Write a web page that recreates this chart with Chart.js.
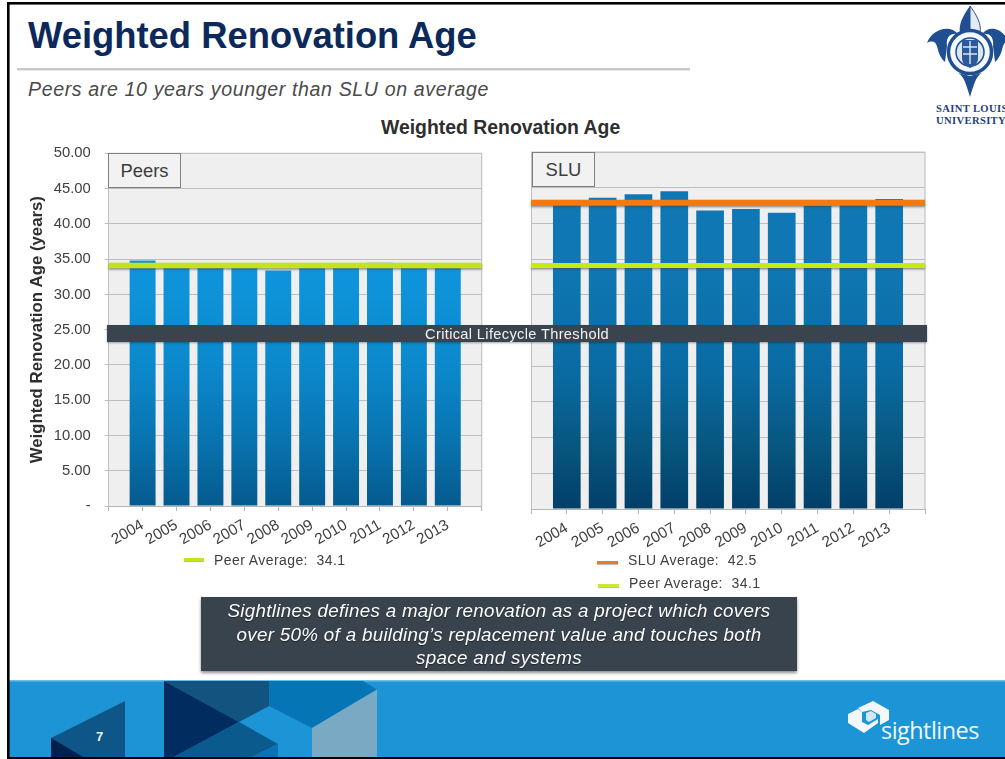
<!DOCTYPE html>
<html><head><meta charset="utf-8">
<script src="https://cdn.jsdelivr.net/npm/chart.js@4"></script>
<style>
html,body{margin:0;padding:0;background:#fff;overflow:hidden}
#slide{position:relative;width:1005px;height:759px;overflow:hidden;font-family:"Liberation Sans",Arial,sans-serif;color:#404040}
#slide div,#slide span{position:absolute;white-space:pre}
canvas{position:absolute;display:block}
.swatch{height:3px;box-shadow:0 1px 1px rgba(90,90,90,.45)}
.legend{font-size:14px;line-height:16px;letter-spacing:.42px}
.panel{background:#F2F2F2;border:1px solid #7F7F7F;box-sizing:border-box;font-size:18.4px;color:#3C3C3C;line-height:33px;text-align:center}
.call{left:201px;width:596px;text-align:center;color:#fff;font-style:italic;font-size:18.8px;line-height:22px;letter-spacing:.3px;text-shadow:0 1px 1px rgba(0,0,0,.5)}
.sluname{left:936px;font-family:'Liberation Serif',serif;font-weight:bold;font-size:10.6px;color:#1F3F7F;line-height:12px;letter-spacing:.35px}
</style></head><body>
<div id="slide">
  <svg style="position:absolute;left:0;top:0" width="1005" height="759">
    <rect x="7" y="681" width="998" height="77" fill="#1C94D6"/>
    <rect x="7" y="680" width="998" height="1.5" fill="#6FBDE6"/>
    <polygon points="51,738 125,701 125,758 51,758" fill="#0F5688"/>
    <polygon points="51,738 85,758 51,758" fill="#00214F"/>
    <polygon points="164,681 269,681 269,706 239,722" fill="#12537F"/>
    <polygon points="164,681 239,722 172,758 164,758" fill="#002C5F"/>
    <polygon points="239,722 278,744 250,758 172,758" fill="#0B5A8E"/>
    <polygon points="278,744 278,758 250,758" fill="#0A72B5"/>
    <polygon points="269,681 363,681 377,689.5 312,728 269,706" fill="#0575B5"/>
    <polygon points="312,728 377,689.5 377,758 312,758" fill="#7AA9C4"/>
    <rect x="7" y="2" width="998" height="2.6" fill="#000"/>
    <rect x="7" y="2" width="2.6" height="757" fill="#000"/>
    <rect x="7" y="757" width="998" height="2" fill="#000"/>
    <rect x="17" y="68" width="673" height="2.4" fill="#C9C9C9"/>
    <!-- university crest -->
    <g>
      <path d="M970,6 C961,18 956,30 963,38 L970,38 Z" fill="#1F4E91"/>
      <path d="M970,6 C979,18 984,30 977,38 L970,38 Z" fill="#E4EBF4" stroke="#1F4E91" stroke-width="1"/>
      <path d="M927,43 C932,29 950,24 958,34 C950,33 946,37 947,46 L945,62 C938,56 938,47 936,44 C934,41 931,41 927,43 Z" fill="#1F4E91"/>
      <path d="M1009,43 C1004,29 990,24 982,34 C990,33 994,37 993,46 L995,62 C1002,56 1002,47 1004,44 C1006,41 1007,41 1009,43 Z" fill="#1F4E91"/>
      <circle cx="970" cy="52" r="21.5" fill="#F4F7FB" stroke="#1F4E91" stroke-width="3.5"/>
      <circle cx="970" cy="52" r="14" fill="#DDE5F0" stroke="#1F4E91" stroke-width="1.5"/>
      <path d="M962,40 H978 V58 C978,64 974,66 970,68 C966,66 962,64 962,58 Z" fill="#2B5A9C"/>
      <path d="M963,47 H977 M963,54 H977 M970,41 V64" stroke="#DDE5F0" stroke-width="1.4"/>
      <path d="M958,73 C964,76 966,84 970,97 C974,84 976,76 982,73 L970,76 Z" fill="#1F4E91"/>
    </g>
    <!-- sightlines mark -->
    <g fill="#F1F7FB">
      <polygon points="848,714 858,709 862,712 862,722 868,725 878,719 878,723 864,733 848,723"/>
      <polygon points="858,708 873,701 889,710 889,720 880,725 880,715 871,710 862,712"/>
      <polygon points="866,713 871,711 876,714 876,718 869,722 866,720" fill-opacity=".85"/>
    </g>
  </svg>

  <div style="left:28px;top:15px;font-size:36.4px;font-weight:bold;color:#0B2A5B;line-height:42px">Weighted Renovation Age</div>
  <div style="left:28px;top:78px;font-size:19.6px;font-style:italic;color:#4A4A4A;line-height:22px;letter-spacing:.62px">Peers are 10 years younger than SLU on average</div>
  <div style="left:381px;top:116px;font-size:19.4px;font-weight:bold;color:#2E2E2E;line-height:22px">Weighted Renovation Age</div>
  <div class="sluname" style="top:103px">SAINT LOUIS</div>
  <div class="sluname" style="top:115px">UNIVERSITY</div>

  <canvas id="peers" style="left:0;top:140px"></canvas>
  <canvas id="slu" style="left:500px;top:140px"></canvas>

  <div class="panel" style="left:108px;top:153px;width:73px;height:35px">Peers</div>
  <div class="panel" style="left:532px;top:152px;width:63px;height:35px">SLU</div>
  <div style="left:107px;top:325px;width:820px;height:17px;background:#39444E;box-shadow:0 1px 2px rgba(0,0,0,.35);color:#F2F2F2;font-size:14.6px;line-height:18px;text-align:center;letter-spacing:.35px">Critical Lifecycle Threshold</div>

  <div id="legPeers"></div>
  <div id="legSlu"></div>

  <div style="left:201px;top:597px;width:596px;height:74px;background:#38434D;box-shadow:0 2px 3px rgba(0,0,0,.45)"></div>
  <div class="call" style="top:600px">Sightlines defines a major renovation as a project which covers</div>
  <div class="call" style="top:624px">over 50% of a building’s replacement value and touches both</div>
  <div class="call" style="top:647px">space and systems</div>

  <div style="left:96px;top:729px;font-size:13px;font-weight:bold;line-height:15px;color:#E8F2F8">7</div>
  <div style="left:881px;top:714px;font-family:'Open Sans',sans-serif;font-size:23.4px;line-height:32px;color:#F1F7FB;letter-spacing:-.5px">sightlines</div>
</div>
<script>
const years = ['2004','2005','2006','2007','2008','2009','2010','2011','2012','2013'];
const peerValues = [34.8,33.9,33.9,33.9,33.4,33.9,33.9,34.5,33.9,33.9];
const sluValues = [42.9,43.6,44.1,44.5,41.8,42.0,41.5,42.5,42.9,43.4];
const peerLevel = 34.1;
const sluLevel = 42.9;
const peerLabel = 'Peer Average:  34.1';
const sluLabel = 'SLU Average:  42.5';
const yMax = 50, yStep = 5;

const labels = ['', ...years, ''];
const padded = a => [null, ...a, null];
const flat = v => labels.map(() => v);

Chart.defaults.font.family = '"Liberation Sans", Arial, sans-serif';
Chart.defaults.animation = false;
Chart.defaults.responsive = false;

const frame = {
  id:'frame',
  beforeDraw(c){const a=c.chartArea,x=c.ctx;x.save();x.fillStyle='#EFEFEF';x.fillRect(a.left,a.top,a.width,a.height);x.restore();},
  beforeDatasetsDraw(c){const a=c.chartArea,x=c.ctx;x.save();x.strokeStyle='#C4C4C4';x.lineWidth=1.2;x.beginPath();x.moveTo(a.right,a.top);x.lineTo(a.right,a.bottom);x.moveTo(a.left,a.top);x.lineTo(a.right,a.top);x.stroke();x.restore();},
  beforeDatasetDraw(c,args){const x=c.ctx;x.save();if(c.data.datasets[args.index].type==='line'){x.shadowColor='rgba(70,70,70,.55)';x.shadowBlur=2;x.shadowOffsetY=1.5;}},
  afterDatasetDraw(c){c.ctx.restore();}
};

function barFill(stops){
  return ctx=>{
    const c=ctx.chart;
    if(!c.chartArea) return stops[0][1];
    const s=c.scales.y, g=c.ctx.createLinearGradient(0,s.getPixelForValue(yMax*0.7),0,s.getPixelForValue(0));
    stops.forEach(p=>g.addColorStop(p[0],p[1]));
    return g;
  };
}

function build(id,o){
  const cv=document.getElementById(id);
  cv.width=o.w;cv.height=o.h;cv.style.width=o.w+'px';cv.style.height=o.h+'px';
  const sets=[{type:'bar',label:o.name,data:padded(o.values),backgroundColor:barFill(o.stops),barPercentage:o.barPct,categoryPercentage:1,order:5}];
  o.lines.forEach((l,i)=>sets.push({type:'line',label:l.label,data:flat(l.value),borderColor:l.color,borderWidth:l.width,pointRadius:0,order:i+1,fill:false,tension:0}));
  return new Chart(cv,{
    type:'bar',
    data:{labels,datasets:sets},
    plugins:[frame],
    options:{
      layout:{autoPadding:false,padding:{top:o.top,right:o.right,bottom:0,left:0}},
      plugins:{legend:{display:false},tooltip:{enabled:false},title:{display:false}},
      scales:{
        x:{offset:false,
          grid:{drawOnChartArea:false,drawTicks:true,tickLength:5,color:'#B5B5B5',offset:false},
          border:{color:'#B5B5B5',width:1},
          ticks:{autoSkip:false,minRotation:30,maxRotation:30,padding:o.xpad,color:'#404040',font:{size:15.4}},
          afterFit(s){s.height=o.xh;s.paddingLeft=0;s.paddingRight=0;}},
        y:{min:0,max:yMax,
          grid:{color:'#BEBEBE',tickLength:o.tick,drawTicks:o.tick>0,lineWidth:1},
          border:{color:'#BEBEBE',width:1},
          title:{display:o.title!==null,text:o.title||'',color:'#2E2E2E',font:{size:16.8,weight:'bold'},padding:{top:27,bottom:0}},
          ticks:{display:o.showY,stepSize:yStep,padding:14,color:'#404040',font:{size:14.8},
            callback:v=>v===0?'-':Number(v).toFixed(2)},
          afterFit(s){s.width=o.axisW;s.paddingTop=0;s.paddingBottom=0;}}
      }
    }
  });
}

build('peers',{w:500,h:420,top:13.4,right:18.3,axisW:108.7,xh:54,xpad:5,tick:4,showY:true,
  title:'Weighted Renovation Age (years)',name:'Peers',values:peerValues,barPct:.765,
  stops:[[0,'#0F96DE'],[.45,'#0B88CB'],[.75,'#0872AE'],[1,'#055A8E']],
  lines:[{label:peerLabel,value:peerLevel,color:'#C3E41C',width:5.5}]});
build('slu',{w:505,h:420,top:12,right:80,axisW:31,xh:51,xpad:5,tick:0,showY:false,
  title:null,name:'SLU',values:sluValues,barPct:.773,
  stops:[[0,'#0F78B4'],[.45,'#0A6BA3'],[.75,'#07567F'],[1,'#023F69']],
  lines:[{label:sluLabel,value:sluLevel,color:'#F27A12',width:6},{label:peerLabel,value:peerLevel,color:'#C4EC10',width:5}]});

function legendRow(host,sx,sy,sw,tx,ty,color,text){
  const s=document.createElement('span');s.className='swatch';
  s.style.cssText+=`left:${sx}px;top:${sy}px;width:${sw}px;background:${color}`;
  const t=document.createElement('span');t.className='legend';
  t.style.cssText+=`left:${tx}px;top:${ty}px`;t.textContent=text;
  host.append(s,t);
}
const lp=document.getElementById('legPeers'), ls=document.getElementById('legSlu');
lp.style.cssText='left:0;top:0';ls.style.cssText='left:0;top:0';
legendRow(lp,184,558,20,214,552,'#C3E41C',peerLabel);
legendRow(ls,597,561,21,628,552,'#EE7A20',sluLabel);
legendRow(ls,598,584,21,629,575,'#C8E83A',peerLabel);
</script>
</body></html>
